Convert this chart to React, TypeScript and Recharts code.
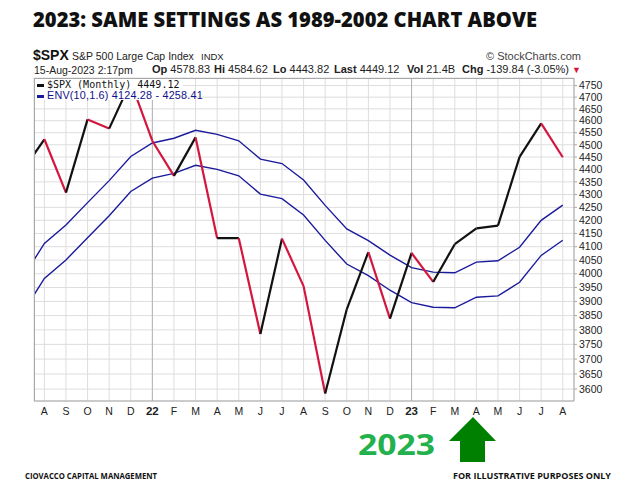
import { LineChart, Line, XAxis, YAxis, CartesianGrid, ReferenceLine } from "recharts";

// monthly bars, Jul 2021 .. Aug 2023 (index 0 = Jul 2021, clipped at the left edge)
const months = ["J", "A", "S", "O", "N", "D", "22", "F", "M", "A", "M", "J", "J", "A", "S", "O", "N", "D", "23", "F", "M", "A", "M", "J", "J", "A"];
const closes = [4395.26, 4522.68, 4307.54, 4605.38, 4567.0, 4766.18, 4515.55, 4373.94, 4530.41, 4131.93, 4132.15, 3785.38, 4130.29, 3955.0, 3585.62, 3871.98, 4080.11, 3839.5, 4076.6, 3970.15, 4109.31, 4169.48, 4179.83, 4450.38, 4588.96, 4449.12];
const envUpper = [3985.16, 4112.43, 4182.12, 4268.41, 4355.05, 4452.08, 4507.22, 4526.8, 4559.95, 4543.14, 4516.4, 4441.49, 4423.48, 4357.4, 4257.7, 4166.85, 4122.6, 4068.31, 4022.2, 4005.76, 4003.44, 4042.46, 4047.5, 4097.83, 4199.77, 4258.41];
const envLower = [3859.64, 3982.91, 4050.4, 4133.97, 4217.89, 4311.86, 4365.26, 4384.22, 4416.33, 4400.04, 4374.16, 4301.61, 4284.16, 4220.16, 4123.6, 4035.61, 3992.76, 3940.17, 3895.52, 3879.6, 3877.34, 3915.14, 3920.02, 3968.77, 4067.49, 4124.28];

const priceTicks = [3600, 3650, 3700, 3750, 3800, 3850, 3900, 3950, 4000, 4050, 4100, 4150, 4200, 4250, 4300, 4350, 4400, 4450, 4500, 4550, 4600, 4650, 4700, 4750];
const monthTicks = [1, 2, 3, 4, 5, 6, 7, 8, 9, 10, 11, 12, 13, 14, 15, 16, 17, 18, 19, 20, 21, 22, 23, 24, 25];
const yearLines = [6, 18];

const UP = "#111111";
const DOWN = "#d4163e";
const ENV = "#1a1a9c";

const chartData = months.map((m, i) => ({
  i,
  label: m,
  close: closes[i],
  upper: envUpper[i],
  lower: envLower[i],
}));

// one short line per month so each leg can be black (up) or red (down)
const segments = chartData.slice(1).map((d, k) => ({
  up: d.close >= chartData[k].close,
  data: [chartData[k], d],
}));

function MonthTick(props: any) {
  const { x, y, payload } = props;
  const label = months[payload.value];
  const isYear = /\d/.test(label);
  return (
    <text
      x={x}
      y={y + 6}
      textAnchor="middle"
      fontSize={isYear ? 11.5 : 10.5}
      fontWeight={isYear ? 700 : 400}
      fill="#222"
      fontFamily="Liberation Sans, Arial, sans-serif"
    >
      {label}
    </text>
  );
}

const abs = (left: number, top: number, extra: any = {}) => ({
  position: "absolute" as const,
  left,
  top,
  whiteSpace: "nowrap" as const,
  fontFamily: "Liberation Sans, Arial, sans-serif",
  lineHeight: 1,
  ...extra,
});

export default function App() {
  return (
    <div style={{ position: "absolute", left: 0, top: 0, width: 640, height: 490, background: "#fff", overflow: "hidden" }}>
      <svg width={640} height={490} style={{ position: "absolute", left: 0, top: 0 }}>
        <text
          x={33}
          y={26.5}
          fontFamily="Open Sans, sans-serif"
          fontWeight={800}
          fontSize={21}
          fill="#111"
          textLength={504}
          lengthAdjust="spacingAndGlyphs"
        >
          2023: SAME SETTINGS AS 1989-2002 CHART ABOVE
        </text>
      </svg>

      {/* header block */}
      <div style={abs(33, 48, { fontSize: 14, fontWeight: 700, color: "#111" })}>$SPX</div>
      <div style={abs(72, 51, { fontSize: 10.5, color: "#222" })}>S&amp;P 500 Large Cap Index</div>
      <div style={abs(201, 52, { fontSize: 9.5, color: "#222" })}>INDX</div>
      <div style={abs(486, 51, { fontSize: 11, color: "#444" })}>© StockCharts.com</div>

      <div style={abs(34, 65, { fontSize: 10.5, color: "#222" })}>15-Aug-2023 2:17pm</div>
      <div style={abs(152, 64, { fontSize: 11, color: "#222" })}><b>Op</b> 4578.83</div>
      <div style={abs(214, 64, { fontSize: 11, color: "#222" })}><b>Hi</b> 4584.62</div>
      <div style={abs(273, 64, { fontSize: 11, color: "#222" })}><b>Lo</b> 4443.82</div>
      <div style={abs(334, 64, { fontSize: 11, color: "#222" })}><b>Last</b> 4449.12</div>
      <div style={abs(407, 64, { fontSize: 11, color: "#222" })}><b>Vol</b> 21.4B</div>
      <div style={abs(462, 64, { fontSize: 11, color: "#222" })}>
        <b>Chg</b> -139.84 (-3.05%) <span style={{ color: DOWN, fontSize: 9 }}>▼</span>
      </div>

      <div style={{ position: "absolute", left: 0, top: 0 }}>
        <LineChart
          width={640}
          height={490}
          data={chartData}
          margin={{ top: 78, right: 26, left: 34, bottom: 69 }}
        >
          <CartesianGrid stroke="#dddddd" strokeWidth={1} />
          <XAxis
            dataKey="i"
            type="number"
            domain={[0.52, 25.52]}
            allowDataOverflow
            ticks={monthTicks}
            interval={0}
            tick={<MonthTick />}
            tickLine={false}
            axisLine={{ stroke: "#a8a8a8" }}
            height={20}
          />
          <YAxis
            orientation="right"
            scale="log"
            type="number"
            domain={[3561, 4783]}
            allowDataOverflow
            ticks={priceTicks}
            interval={0}
            tick={{ fontSize: 10.5, fill: "#222", fontFamily: "Liberation Sans, Arial, sans-serif" }}
            tickLine={{ stroke: "#a8a8a8" }}
            tickSize={3}
            axisLine={{ stroke: "#a8a8a8" }}
            width={40}
          />
          {yearLines.map((x) => (
            <ReferenceLine key={x} x={x} stroke="#b4b4b4" strokeWidth={1} />
          ))}
          <Line dataKey="upper" stroke={ENV} strokeWidth={1.4} dot={false} isAnimationActive={false} />
          <Line dataKey="lower" stroke={ENV} strokeWidth={1.4} dot={false} isAnimationActive={false} />
          {segments.map((s, k) => (
            <Line
              key={k}
              data={s.data}
              dataKey="close"
              stroke={s.up ? UP : DOWN}
              strokeWidth={2.2}
              dot={false}
              isAnimationActive={false}
            />
          ))}
        </LineChart>
      </div>

      {/* plot frame (left + top) */}
      <div style={{ position: "absolute", left: 34, top: 78, width: 540, height: 323, borderLeft: "1px solid #a8a8a8", borderTop: "1px solid #a8a8a8", boxSizing: "border-box", pointerEvents: "none" }} />

      {/* legend box */}
      <div style={{ position: "absolute", left: 35, top: 79, width: 148, height: 21, background: "#fff" }}>
        <div style={abs(2, 1, { fontSize: 10, fontFamily: "DejaVu Sans Mono, monospace", color: "#111" })}>
          <span style={{ display: "inline-block", width: 7, height: 3, background: UP, verticalAlign: "middle", marginRight: 3 }} />
          $SPX (Monthly) 4449.12
        </div>
        <div style={abs(2, 11, { fontSize: 10.8, color: "#10108a", letterSpacing: 0.2 })}>
          <span style={{ display: "inline-block", width: 7, height: 3, background: ENV, verticalAlign: "middle", marginRight: 3 }} />
          ENV(10,1.6) 4124.28 - 4258.41
        </div>
      </div>

      {/* 2023 + arrow */}
      <svg width={640} height={490} style={{ position: "absolute", left: 0, top: 0, pointerEvents: "none" }}>
        <text
          x={358}
          y={455}
          fontFamily="Open Sans, sans-serif"
          fontWeight={700}
          fontSize={29}
          fill="#22b14c"
          textLength={77}
          lengthAdjust="spacingAndGlyphs"
        >
          2023
        </text>
        <polygon points="473,417 496,441 485,441 485,462 460,462 460,441 449,441" fill="#008000" />
        <text x={25} y={479} fontFamily="Open Sans, sans-serif" fontWeight={700} fontSize={9.5} fill="#111" textLength={132} lengthAdjust="spacingAndGlyphs">
          CIOVACCO CAPITAL MANAGEMENT
        </text>
        <text x={453} y={479} fontFamily="Open Sans, sans-serif" fontWeight={700} fontSize={9.5} fill="#111" textLength={158} lengthAdjust="spacingAndGlyphs">
          FOR ILLUSTRATIVE PURPOSES ONLY
        </text>
      </svg>
    </div>
  );
}
